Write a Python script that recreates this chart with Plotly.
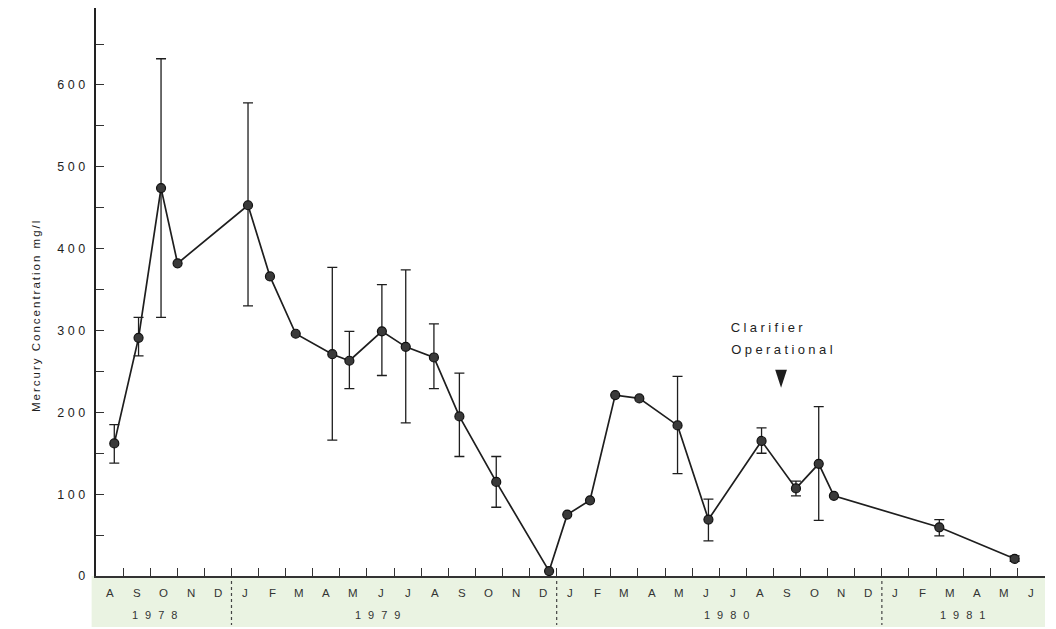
import plotly.graph_objects as go

# x position in months counted from the start of August 1978
x_month = [0.675, 1.57, 2.40, 3.01, 5.61, 6.42, 7.37, 8.72, 9.35, 10.55, 11.43,
           12.47, 13.41, 14.77, 16.72, 17.39, 18.23, 19.16, 20.05, 21.46, 22.60,
           24.56, 25.83, 26.67, 27.23, 31.12, 33.90]
mercury = [162, 291, 474, 382, 453, 366, 296, 271, 263, 299, 280,
           267, 195, 115, 6, 75, 92.5, 221, 217, 184, 69,
           165, 107, 137, 98, 59.5, 21]
# error-bar ends (None = no bar)
err_top = [185, 316, 632, None, 578, None, None, 377, 299, 356, 374,
           308, 248, 146, None, None, None, None, None, 244, 94,
           181, 116, 207, None, 69, 24.5]
err_bottom = [138, 269, 316, None, 330, None, None, 166, 229, 245, 187,
              229, 146, 84, None, None, None, None, None, 125, 43,
              150, 98, 68, None, 49, 18]

month_labels = ["A", "S", "O", "N", "D",
                "J", "F", "M", "A", "M", "J", "J", "A", "S", "O", "N", "D",
                "J", "F", "M", "A", "M", "J", "J", "A", "S", "O", "N", "D",
                "J", "F", "M", "A", "M", "J"]
year_labels = ["1978", "1979", "1980", "1981"]
year_label_pos = [2.3, 10.52, 23.38, 32.12]
year_breaks = [5, 17, 29]

y_tick_vals = list(range(0, 651, 50))
y_tick_text = [str(v) if v % 100 == 0 else "" for v in y_tick_vals]

note_lines = ["Clarifier", "Operational"]
note_x = [24.80, 25.36]
note_y = [304, 277]
clarifier_x = 25.28
clarifier_y = 230

FONT = "Liberation Sans, Arial, Helvetica, sans-serif"
INK = "#1e1e1e"

ex, ey, eplus, eminus = [], [], [], []
for xv, yv, t, b in zip(x_month, mercury, err_top, err_bottom):
    if t is not None:
        ex.append(xv)
        ey.append(yv)
        eplus.append(t - yv)
        eminus.append(yv - b)

fig = go.Figure()
fig.add_trace(go.Scatter(
    x=ex, y=ey, mode="markers",
    marker=dict(size=1, color="rgba(0,0,0,0)"),
    error_y=dict(type="data", symmetric=False, array=eplus, arrayminus=eminus,
                 color=INK, thickness=1.3, width=5),
    hoverinfo="skip", showlegend=False, cliponaxis=False))
fig.add_trace(go.Scatter(
    x=x_month, y=mercury, mode="lines+markers",
    line=dict(color=INK, width=1.7),
    marker=dict(size=9, color="#3a3a3a", line=dict(color="#111", width=1.2)),
    showlegend=False, cliponaxis=False))
fig.add_trace(go.Scatter(
    x=[clarifier_x], y=[clarifier_y], mode="markers",
    marker=dict(symbol="arrow", angle=180, size=19, color=INK),
    showlegend=False, hoverinfo="skip", cliponaxis=False))

# green band under the axis
fig.add_shape(type="rect", xref="paper", yref="paper", x0=-0.0046, x1=1.0,
              y0=-0.0898, y1=0, fillcolor="#eaf3e2", line_width=0, layer="below")
for b in year_breaks:
    fig.add_shape(type="line", xref="x", yref="paper", x0=b, x1=b,
                  y0=-0.0088, y1=-0.0863,
                  line=dict(color="#444", width=1.2, dash="3px,3px"))

for i, m in enumerate(month_labels):
    fig.add_annotation(x=i + 0.5, y=-0.0299, xref="x", yref="paper", text=m,
                       showarrow=False, font=dict(family=FONT, size=11.5, color="#333"),
                       xanchor="center", yanchor="middle")
for t, p in zip(year_labels, year_label_pos):
    fig.add_annotation(x=p, y=-0.0687, xref="x", yref="paper", text=t,
                       showarrow=False, font=dict(family=FONT, size=11, color="#333"),
                       xanchor="center", yanchor="middle")

fig.add_annotation(x=-0.0717, y=0.4595, xref="paper", yref="paper",
                   text="Mercury Concentration mg/l", textangle=-90, showarrow=False,
                   font=dict(family=FONT, size=11.5, color=INK))
for t, xv, yv in zip(note_lines, note_x, note_y):
    fig.add_annotation(x=xv, y=yv, xref="x", yref="y", text=t,
                       showarrow=False, xanchor="center", yanchor="middle",
                       font=dict(family=FONT, size=13, color=INK))

fig.update_layout(
    width=1048, height=621,
    margin=dict(l=88, r=11, t=0, b=53),
    paper_bgcolor="white", plot_bgcolor="white",
    font=dict(family=FONT, color=INK),
    xaxis=dict(range=[0, 35.02], tickvals=list(range(0, 36)),
               ticktext=[""] * 36, ticks="inside", ticklen=8, tickwidth=1.2,
               tickcolor="#333", showline=True, linecolor="#333", linewidth=1.5,
               showgrid=False, zeroline=False, fixedrange=True),
    yaxis=dict(range=[0, 694], tickvals=y_tick_vals, ticktext=y_tick_text,
               ticks="inside", ticklen=8, tickwidth=1.2, tickcolor="#333",
               showline=True, linecolor="#222", linewidth=1.6,
               showgrid=False, zeroline=False, ticklabelstandoff=3,
               tickfont=dict(family=FONT, size=12.5, color=INK), fixedrange=True),
)

# the original typesetting is widely letter-spaced
spacing_js = """
var gd = document.getElementById('{plot_id}');
gd.querySelectorAll('g.ytick text').forEach(function(t){ t.style.letterSpacing = '3.5px'; });
gd.querySelectorAll('g.annotation').forEach(function(g){
  var t = g.querySelector('text'); if(!t) return;
  var s = t.textContent;
  if (s === 'Clarifier' || s === 'Operational') t.style.letterSpacing = '3.4px';
  else if (/^19\\d\\d$/.test(s)) t.style.letterSpacing = '7px';
  else if (s.indexOf('Mercury') === 0) t.style.letterSpacing = '2px';
});
"""

fig.write_html("out.html", post_script=spacing_js)
